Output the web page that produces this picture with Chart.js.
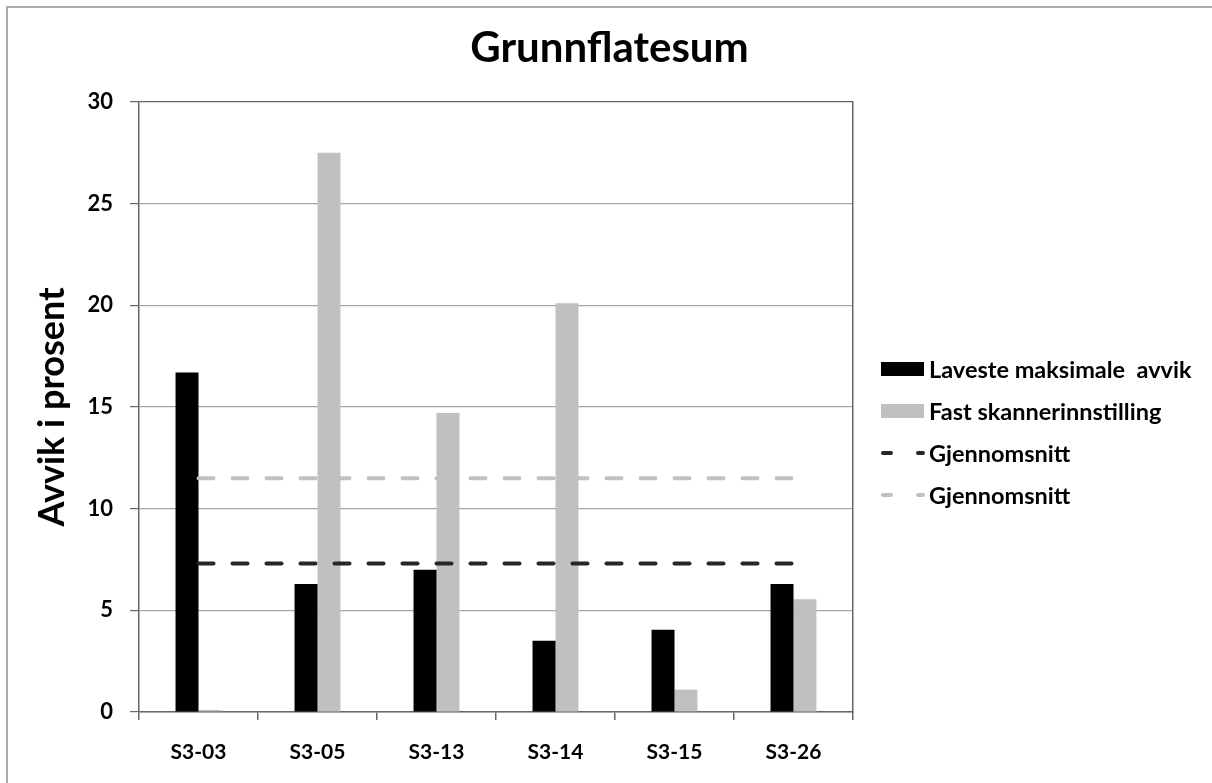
<!DOCTYPE html>
<html>
<head>
<meta charset="utf-8">
<script src="https://cdn.jsdelivr.net/npm/chart.js@4"></script>
<style>
  html, body { margin: 0; padding: 0; background: #fff; overflow: hidden; }
  #frame { position: absolute; left: 6px; top: 6px; width: 1400px; height: 1000px; border: 2px solid #ababab; }
  #wrap { position: absolute; left: 0; top: 0; width: 1212px; height: 783px; }
</style>
</head>
<body>
<div id="frame"></div>
<div id="wrap"><canvas id="c" width="1212" height="783"></canvas></div>
<script>
// Prøveflater
const categories = ['S3-03', 'S3-05', 'S3-13', 'S3-14', 'S3-15', 'S3-26'];

// Avvik i prosent per prøveflate
const lavesteMaksimaleAvvik = [16.7, 6.3, 7.0, 3.5, 4.05, 6.3];
const fastSkannerinnstilling = [0.1, 27.5, 14.7, 20.1, 1.1, 5.55];

// Gjennomsnitt for hver serie, vist som stiplet linje over alle flater
const snittLaveste = [7.3, 7.3, 7.3, 7.3, 7.3, 7.3];
const snittFast = [11.5, 11.5, 11.5, 11.5, 11.5, 11.5];

// Verdiakse
const yTicks = [0, 5, 10, 15, 20, 25, 30];

const FONT = 'Lato';
const AXIS = '#666666';
const GRID = '#a6a6a6';
const GREY = '#c0c0c0';

// Tegnforklaring til høyre for plottet
const sideLegend = {
  id: 'sideLegend',
  afterDraw(chart) {
    const ctx = chart.ctx;
    const x0 = 881, boxW = 43, boxH = 14, textX = 929;
    const rows = [369, 411, 453, 495];
    ctx.save();
    ctx.font = 'bold 23.5px ' + FONT;
    ctx.textBaseline = 'middle';
    ctx.textAlign = 'left';
    chart.data.datasets.forEach((ds, i) => {
      const y = rows[i];
      if (ds.type === 'line') {
        ctx.strokeStyle = ds.borderColor;
        ctx.lineWidth = ds.borderWidth;
        ctx.lineCap = 'round';
        ctx.setLineDash([8, 27]);
        ctx.beginPath();
        ctx.moveTo(x0 + 2, y);
        ctx.lineTo(x0 + boxW - 1, y);
        ctx.stroke();
        ctx.setLineDash([]);
      } else {
        ctx.fillStyle = ds.backgroundColor;
        ctx.fillRect(x0, y - boxH / 2, boxW, boxH);
      }
      ctx.fillStyle = '#000';
      ctx.fillText(ds.label, textX, y + 1);
    });
    ctx.restore();
  }
};

new Chart(document.getElementById('c'), {
  data: {
    labels: categories,
    datasets: [
      {
        type: 'bar',
        label: 'Laveste maksimale  avvik',
        data: lavesteMaksimaleAvvik,
        backgroundColor: '#000000',
        borderWidth: 0,
        categoryPercentage: 0.386,
        barPercentage: 1.0,
        order: 1
      },
      {
        type: 'bar',
        label: 'Fast skannerinnstilling',
        data: fastSkannerinnstilling,
        backgroundColor: GREY,
        borderWidth: 0,
        categoryPercentage: 0.386,
        barPercentage: 1.0,
        order: 1
      },
      {
        type: 'line',
        label: 'Gjennomsnitt',
        data: snittLaveste,
        borderColor: '#262626',
        borderWidth: 4,
        borderDash: [15, 19],
        borderCapStyle: 'round',
        pointRadius: 0,
        fill: false,
        order: 0
      },
      {
        type: 'line',
        label: 'Gjennomsnitt',
        data: snittFast,
        borderColor: GREY,
        borderWidth: 4,
        borderDash: [15, 19],
        borderCapStyle: 'round',
        pointRadius: 0,
        fill: false,
        order: 0
      }
    ]
  },
  options: {
    responsive: false,
    animation: false,
    layout: { padding: { left: 7, right: 0, top: 8, bottom: 10 } },
    plugins: {
      legend: { display: false },
      tooltip: { enabled: false },
      title: {
        display: true,
        text: 'Grunnflatesum',
        color: '#000',
        font: { family: FONT, size: 42, weight: 'bold' },
        padding: { top: 15, bottom: 28.6 }
      }
    },
    scales: {
      x: {
        type: 'category',
        offset: true,
        grid: {
          display: true,
          offset: true,
          drawOnChartArea: false,
          drawTicks: true,
          tickLength: 8,
          color: AXIS,
          lineWidth: 1.5
        },
        border: { display: true, color: AXIS, width: 1.5 },
        ticks: {
          color: '#000',
          font: { family: FONT, size: 21, weight: 'bold' },
          padding: 20,
          maxRotation: 0,
          autoSkip: false
        },
        afterFit(scale) { scale.height = 61; }
      },
      y: {
        type: 'linear',
        position: 'left',
        min: yTicks[0],
        max: yTicks[yTicks.length - 1],
        afterBuildTicks(scale) { scale.ticks = yTicks.map(v => ({ value: v })); },
        grid: {
          color: (c) => (c.tick && c.tick.value === 30 ? AXIS : GRID),
          tickColor: AXIS,
          tickLength: 9,
          lineWidth: 1.2
        },
        border: { display: true, color: AXIS, width: 1.5 },
        ticks: {
          color: '#000',
          font: { family: FONT, size: 22, weight: 'bold' },
          padding: 17
        },
        title: {
          display: true,
          text: 'Avvik i prosent',
          color: '#000',
          font: { family: FONT, size: 36, weight: 'bold' },
          padding: { top: 24, bottom: 0 }
        },
        afterFit(scale) { scale.width = 132; }
      },
      frameRight: {
        type: 'linear',
        position: 'right',
        display: true,
        grid: { drawOnChartArea: false, drawTicks: false },
        border: { display: true, color: AXIS, width: 1.5 },
        ticks: { display: false },
        afterFit(scale) { scale.width = 359; }
      }
    }
  },
  plugins: [sideLegend]
});
</script>
</body>
</html>
